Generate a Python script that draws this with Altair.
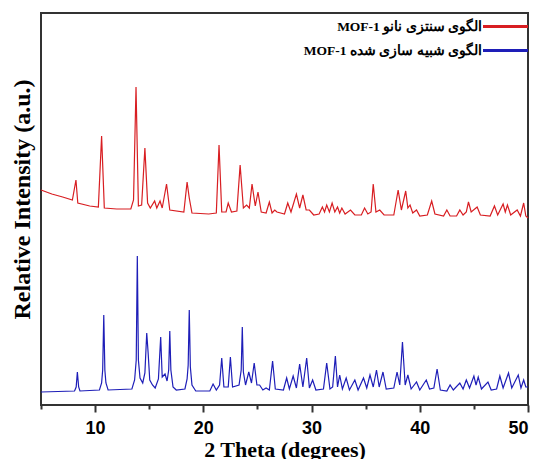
import altair as alt
import pandas as pd

red_tt = [5.0, 6.0, 7.0, 7.9, 8.23, 8.4, 9.5, 10.3, 10.6, 10.85, 12.0, 13.3, 13.55, 13.78, 14.0, 14.3,
          14.6, 14.85, 15.1, 15.5, 15.7, 16.0, 16.2, 16.6, 16.9, 18.2, 18.5, 18.7, 18.95, 20.5, 21.2,
          21.45, 21.7, 22.1, 22.3, 22.6, 23.1, 23.4, 23.7, 24.0, 24.25, 24.5, 24.8, 25.05, 25.35, 25.8,
          26.1, 26.35, 26.6, 26.8, 27.5, 27.8, 28.1, 28.6, 28.9, 29.2, 29.5, 29.8, 30.2, 30.7, 31.0,
          31.2, 31.4, 31.65, 31.9, 32.15, 32.4, 32.6, 32.8, 33.1, 33.6, 34.0, 34.6, 34.9, 35.2, 35.5,
          35.7, 35.95, 36.3, 36.7, 37.6, 38.0, 38.3, 38.7, 38.9, 39.1, 39.35, 39.7, 40.0, 40.7, 41.1,
          41.4, 42.2, 42.5, 42.8, 43.4, 43.7, 44.0, 44.3, 44.5, 44.75, 45.3, 45.6, 46.5, 46.9, 47.2,
          47.7, 47.9, 48.1, 48.4, 49.0, 49.3, 49.6, 49.8, 50.0]
red_int = [215, 211, 208, 205, 225, 202, 199, 198, 269, 197, 196, 196, 205, 318, 199, 200,
           257, 202, 197, 204, 197, 204, 197, 221, 195, 193, 223, 207, 192, 191, 192,
           260, 193, 193, 202, 193, 194, 240, 197, 200, 197, 221, 199, 213, 193, 192,
           203, 192, 195, 193, 191, 202, 193, 211, 197, 210, 195, 195, 190, 191, 198,
           193, 200, 193, 202, 193, 198, 192, 197, 191, 195, 190, 190, 197, 191, 193,
           221, 193, 195, 190, 190, 215, 195, 214, 197, 200, 192, 195, 189, 190, 204,
           191, 189, 195, 189, 189, 195, 190, 193, 203, 193, 198, 190, 189, 199, 190,
           201, 193, 200, 190, 195, 189, 202, 189, 187]

# Simulated (blue) pattern
blue_tt = [5.0, 8.1, 8.25, 8.36, 8.48, 8.6,
           10.4, 10.6, 10.7, 10.8, 10.9, 11.0, 11.2,
           13.4, 13.65, 13.8, 13.9, 14.0, 14.15, 14.4,
           14.6, 14.77, 14.9, 15.05, 15.3, 15.55, 15.85, 16.06, 16.2, 16.46, 16.65, 16.8, 16.9,
           17.0, 17.2, 17.5,
           18.3, 18.5, 18.6, 18.7, 18.8, 18.95, 19.3,
           20.6, 20.9, 21.2, 21.5, 21.7, 21.9, 22.3, 22.5, 22.7,
           23.3, 23.5, 23.6, 23.7, 23.9, 24.2, 24.45, 24.7, 24.95, 25.2, 25.5, 25.8, 26.1, 26.4,
           26.65, 27.4,
           27.7, 27.95, 28.3, 28.6, 28.9, 29.2, 29.55, 29.8, 30.1, 30.4, 31.1, 31.4, 31.7, 31.95,
           32.2, 32.4, 32.6, 32.85, 33.2, 33.5, 34.0, 34.3, 34.8, 35.1, 35.4, 35.7, 36.0, 36.25,
           36.6, 36.9, 37.6, 37.9, 38.15, 38.4, 38.65, 38.9, 39.2, 39.7, 40.0, 40.6, 40.9, 41.3,
           41.6, 41.9, 42.5, 42.8, 43.1, 43.7, 44.0, 44.3, 44.6, 45.0, 45.2, 45.4, 45.7, 46.3,
           46.6, 47.1, 47.4, 47.7, 48.2, 48.5, 49.1, 49.35, 49.6, 49.8, 50.0]
blue_int = [13, 14, 18, 33, 18, 14,
            15, 22, 35, 90, 35, 22, 15,
            16, 25, 45, 149, 45, 27, 22,
            32, 72, 52, 25, 20, 17, 26, 68, 28, 31, 24, 35, 74,
            35, 18, 15,
            16, 26, 40, 95, 38, 20, 14,
            14, 21, 15, 20, 47, 18, 18, 48, 18,
            20, 35, 78, 33, 20, 33, 22, 42, 20, 20, 15, 17, 15, 44,
            16, 15,
            27, 16, 29, 17, 41, 18, 47, 17, 25, 15, 16, 42, 16, 18,
            49, 18, 30, 16, 27, 15, 25, 15, 27, 17, 30, 18, 35, 18,
            33, 16, 17, 33, 20, 63, 20, 30, 16, 23, 15, 25, 16, 17,
            36, 15, 14, 20, 15, 22, 16, 25, 17, 29, 20, 28, 16, 23,
            15, 16, 29, 17, 32, 17, 30, 17, 25, 18, 18]

series_names = ["MOF-1 الگوی سنتزی نانو", "MOF-1 الگوی شبیه سازی شده"]
series_colors = ["#d81e22", "#1e1eb8"]
major_ticks = [10, 20, 30, 40, 50]
minor_ticks = [5, 15, 25, 35, 45]

df = pd.concat([
    pd.DataFrame({"tt": red_tt, "val": red_int, "series": series_names[0]}),
    pd.DataFrame({"tt": blue_tt, "val": blue_int, "series": series_names[1]}),
], ignore_index=True)

xscale = alt.Scale(domain=[5, 50], nice=False, zero=False)
yscale = alt.Scale(domain=[0, 392], nice=False, zero=False)

lines = alt.Chart(df).mark_line(strokeWidth=1.2).encode(
    x=alt.X("tt:Q", scale=xscale,
            axis=alt.Axis(values=major_ticks, title="2 Theta (degrees)", grid=False, domain=False,
                          tickSize=7, tickWidth=2, tickColor="#333333",
                          labelFont="Liberation Sans", labelFontSize=18, labelFontWeight="bold",
                          labelColor="black", labelPadding=7,
                          titleFont="Liberation Serif", titleFontSize=22, titleFontWeight="bold",
                          titleColor="black", titlePadding=2)),
    y=alt.Y("val:Q", scale=yscale,
            axis=alt.Axis(title="Relative Intensity (a.u.)", grid=False, domain=False, ticks=False,
                          labels=False, titleFont="Liberation Serif", titleFontSize=24,
                          titleFontWeight="bold", titleColor="black", titlePadding=7, titleY=186)),
    color=alt.Color("series:N",
                    scale=alt.Scale(domain=series_names, range=series_colors),
                    legend=alt.Legend(orient="none", legendX=455.5, legendY=4.5, title=None,
                                      symbolType="M-3,0H3", symbolSize=225, symbolStrokeWidth=3,
                                      symbolFillColor="transparent",
                                      labelAlign="right", labelOffset={"expr": "-32.5"}, labelLimit=0,
                                      labelFont="Liberation Serif", labelFontSize=13.5,
                                      labelFontWeight="bold", labelColor="black",
                                      rowPadding=8, padding=0)),
    order=alt.Order("tt:Q"),
)

minor = alt.Chart(df).mark_point(opacity=0).encode(
    x=alt.X("tt:Q", scale=xscale,
            axis=alt.Axis(values=minor_ticks, title=None, labels=False, grid=False, domain=False,
                          tickSize=4, tickWidth=2, tickColor="#333333", orient="bottom")),
)

chart = alt.layer(lines, minor).resolve_axis(x="independent").properties(
    width=487, height=392,
    autosize=alt.AutoSizeParams(type="none"),
    padding={"left": 33, "top": 5, "right": 4, "bottom": 54},
).configure_view(stroke="#333333", strokeWidth=2)

chart.save("out.html", embed_options={"renderer": "svg", "actions": False})
